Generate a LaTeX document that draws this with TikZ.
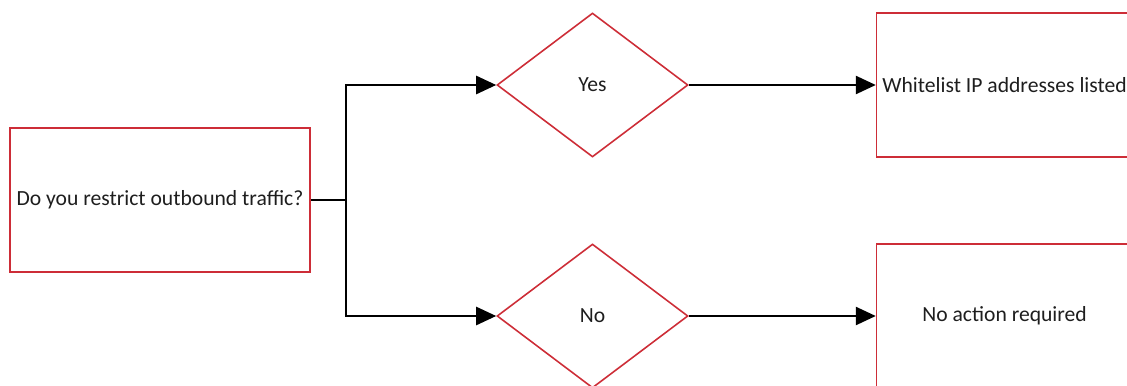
\documentclass[tikz,border=0pt]{standalone}
\usepackage{fontspec}
\setmainfont{Carlito}
\usepackage{xcolor}
\usepackage{tikz}
\usetikzlibrary{calc,positioning,arrows.meta,shapes.geometric}

\definecolor{boxred}{RGB}{205,45,55}
\definecolor{inkgray}{RGB}{30,30,30}

\tikzset{
    box/.style={draw=boxred, line width=0.9pt, text=inkgray, align=center,
        minimum height=2.88cm, inner sep=2pt},
    choice/.style={draw=boxred, line width=0.9pt, diamond, text=inkgray,
        minimum width=3.82cm, minimum height=2.88cm, inner sep=0pt},
    flow/.style={line width=1.4pt, -{Triangle[length=0.4cm, width=0.36cm]}}
}

\begin{document}
\begin{tikzpicture}[font=\fontsize{12.3}{14}\selectfont]
    \clip (0,0) rectangle (22.54,7.7);

    \node [box, minimum width=6cm] (q) at (3.2,3.7) {Do you restrict outbound traffic?};
    \node [choice] (yes) at (11.85,6.0) {Yes};
    \node [choice] (no) at (11.85,1.38) {No};
    \node [box, minimum width=5.12cm, right=3.74cm of yes] (allow) {Whitelist IP addresses listed};
    \node [box, minimum width=5.12cm, right=3.74cm of no] (none) {No action required};

    \coordinate (split) at (6.92,3.7);

    \draw[line width=1.4pt] (q.east) -- (split);
    \draw[flow] (split) |- (yes.west);
    \draw[flow] (split) |- (no.west);
    \draw[flow] (yes.east) -- (allow.west);
    \draw[flow] (no.east) -- (none.west);

\end{tikzpicture}
\end{document}
